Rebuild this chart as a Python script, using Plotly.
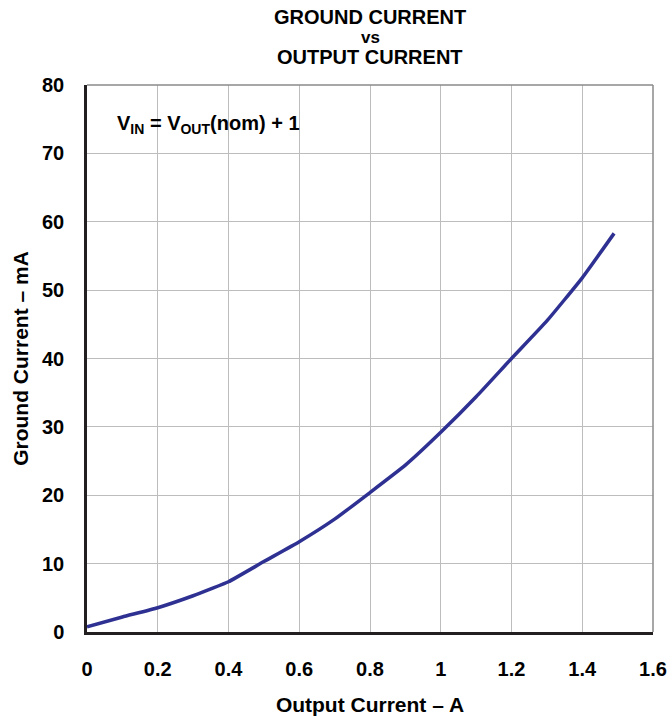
import plotly.graph_objects as go

output_current_a = [0.0, 0.1, 0.2, 0.3, 0.35, 0.4, 0.5, 0.6, 0.7, 0.8, 0.9, 1.0, 1.1, 1.2, 1.3, 1.4, 1.49]
ground_current_ma = [0.75, 2.2, 3.55, 5.3, 6.3, 7.35, 10.3, 13.2, 16.5, 20.4, 24.4, 29.2, 34.4, 40.0, 45.5, 51.8, 58.3]

x_ticks = [0, 0.2, 0.4, 0.6, 0.8, 1, 1.2, 1.4, 1.6]
x_tick_labels = ["0", "0.2", "0.4", "0.6", "0.8", "1", "1.2", "1.4", "1.6"]
y_ticks = [0, 10, 20, 30, 40, 50, 60, 70, 80]
title_lines = ["GROUND CURRENT", "vs", "OUTPUT CURRENT"]

FONT = "Liberation Sans, Arial, sans-serif"
W, H = 671, 723
ML, MR, MT, MB = 87, 18, 85, 91
plot_h = H - MT - MB

fig = go.Figure()
fig.add_trace(go.Scatter(
    x=output_current_a, y=ground_current_ma, mode="lines",
    line=dict(color="#2E3192", width=3.5, shape="spline", smoothing=0.4),
    showlegend=False, hoverinfo="skip",
))

annotations = []
for i, (line, py) in enumerate(zip(title_lines, [17, 37, 57])):
    annotations.append(dict(
        text="<b>%s</b>" % line, xref="paper", x=0.5, xanchor="center",
        yref="paper", y=(H - MB - py) / plot_h, yanchor="middle",
        showarrow=False, font=dict(size=20 if i != 1 else 17, family=FONT, color="black"),
    ))
annotations.append(dict(
    text="<b>V<sub>IN</sub> = V<sub>OUT</sub>(nom) + 1</b>",
    x=0.078, xref="x", y=74.2, yref="y", xanchor="left", yanchor="middle",
    showarrow=False, font=dict(size=20, family=FONT, color="black"),
))

fig.update_layout(
    width=W, height=H,
    margin=dict(l=ML, r=MR, t=MT, b=MB),
    paper_bgcolor="white", plot_bgcolor="white",
    font=dict(family=FONT, color="black"),
    xaxis=dict(
        range=[0, 1.6], tickvals=x_ticks, ticktext=["<b>%s</b>" % t for t in x_tick_labels],
        showgrid=True, gridcolor="#BDBDBD", gridwidth=1.3,
        zeroline=False, showline=True, linecolor="#231F20", linewidth=3,
        ticks="", ticklabelstandoff=17, automargin=False,
        tickfont=dict(size=20, family=FONT, color="black"),
        title=dict(text="<b>Output Current – A</b>", font=dict(size=21, family=FONT, color="black"), standoff=19),
    ),
    yaxis=dict(
        range=[0, 80], tickvals=y_ticks, ticktext=["<b>%d</b>" % t for t in y_ticks],
        showgrid=True, gridcolor="#BDBDBD", gridwidth=1.3,
        zeroline=False, showline=True, linecolor="#231F20", linewidth=2.5,
        ticks="", ticklabelstandoff=16, automargin=False,
        tickfont=dict(size=20, family=FONT, color="black"),
        title=dict(text="<b>Ground Current – mA</b>", font=dict(size=21, family=FONT, color="black"), standoff=8),
    ),
    shapes=[
        dict(type="line", xref="paper", yref="paper", x0=0, x1=1, y0=1, y1=1, line=dict(color="#8A8A8A", width=1.5)),
        dict(type="line", xref="paper", yref="paper", x0=1, x1=1, y0=0, y1=1, line=dict(color="#8A8A8A", width=1.5)),
    ],
    annotations=annotations,
)

fig.write_html(
    "out.html",
    config={"displayModeBar": False},
    post_script="document.body.style.margin='0';document.body.style.padding='0';document.body.style.overflow='hidden';",
)
